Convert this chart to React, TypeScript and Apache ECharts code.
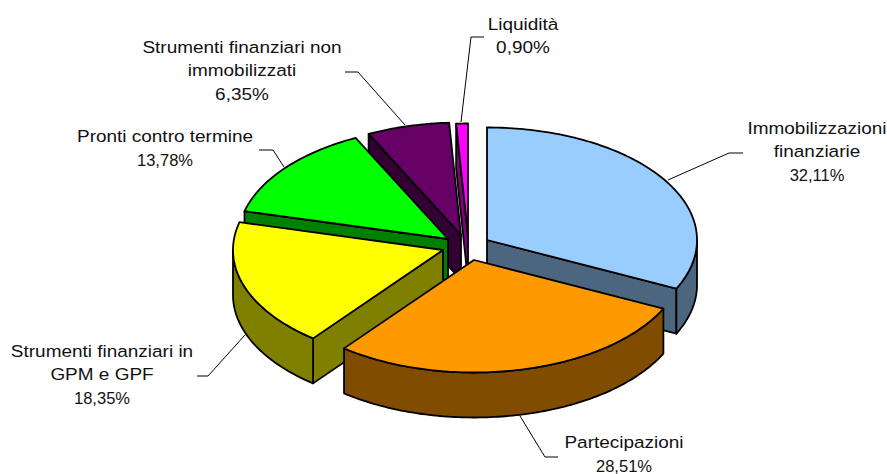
import React, { useEffect, useRef } from "react";
import * as echarts from "echarts";

const categories = [
  "Immobilizzazioni\nfinanziarie",
  "Partecipazioni",
  "Strumenti finanziari in\nGPM e GPF",
  "Pronti contro termine",
  "Strumenti finanziari non\nimmobilizzati",
  "Liquidità",
];
const shares = [32.11, 28.51, 18.35, 13.78, 6.35, 0.9];
const shareLabels = ["32,11%", "28,51%", "18,35%", "13,78%", "6,35%", "0,90%"];

// Styling and layout (kept apart from the data)
const topColors = ["#99CCFF", "#FF9900", "#FFFF00", "#00FF00", "#660066", "#FF00FF"];
const sideColors = ["#4D6680", "#804C00", "#808000", "#008000", "#330033", "#800080"];
const apexes = [[487, 240], [474, 260], [443, 250], [448, 239], [461, 235], [468, 236]];
const paintRank = [4, 5, 3, 2, 1, 0];
const RX = 210, RY = 112.5, DEPTH = 45;
const labelPos = [[817, 128], [624, 442.5], [102, 351], [165, 136], [242, 47], [523, 24]];
const LINE_GAP = 23.5;
const leaders = [
  [[668, 180], [729, 153], [743, 153]],
  [[520, 416], [545, 457], [558, 457]],
  [[245, 335], [208, 376], [197, 376]],
  [[284, 167], [273, 150], [259, 150]],
  [[405, 125], [358, 72], [345, 72]],
  [[461, 122], [471, 37], [484, 37]],
];

const total = shares.reduce((a, b) => a + b, 0);
const rad = (d: number) => (d * Math.PI) / 180;
const pt = (c: number[], deg: number, dy = 0) => [
  c[0] + RX * Math.sin(rad(deg)),
  c[1] - RY * Math.cos(rad(deg)) + dy,
];
const arc = (c: number[], a: number, b: number, dy = 0) => {
  const out: number[][] = [];
  const n = Math.max(2, Math.ceil(Math.abs(b - a)));
  for (let i = 0; i <= n; i++) out.push(pt(c, a + ((b - a) * i) / n, dy));
  return out;
};

function renderItem(params: any, api: any) {
  const i = params.dataIndex;
  const before = shares.slice(0, i).reduce((a, b) => a + b, 0);
  const a0 = (before / total) * 360;
  const a1 = a0 + (api.value(0) / total) * 360;
  const c = apexes[i];
  const rank = paintRank[i] * 10;
  const stroke = { stroke: "#000", lineWidth: 1.8, lineJoin: "round" };
  const children: any[] = [];
  const face = (deg: number) => ({
    type: "polygon",
    z2: rank + 1,
    shape: { points: [c, pt(c, deg), pt(c, deg, DEPTH), [c[0], c[1] + DEPTH]] },
    style: { fill: sideColors[i], ...stroke },
  });
  if (Math.sin(rad(a0)) < 0) children.push(face(a0));
  if (Math.sin(rad(a1)) > 0) children.push(face(a1));
  const w0 = Math.max(a0, 90), w1 = Math.min(a1, 270);
  if (w1 > w0) {
    children.push({
      type: "polygon",
      z2: rank + 2,
      shape: { points: [...arc(c, w0, w1), ...arc(c, w1, w0, DEPTH)] },
      style: { fill: sideColors[i], ...stroke },
    });
  }
  children.push({
    type: "polygon",
    z2: rank + 3,
    shape: { points: [c, ...arc(c, a0, a1)] },
    style: { fill: topColors[i], ...stroke },
  });
  children.push({
    type: "polyline",
    z2: 100,
    shape: { points: leaders[i] },
    style: { stroke: "#000", lineWidth: 1, fill: "none" },
  });
  const lines = [...categories[i].split("\n"), shareLabels[i]];
  lines.forEach((line, k) => {
    const tightPercent = line.endsWith("%") && line.includes("1");
    children.push({
      type: "text",
      z2: 101,
      x: labelPos[i][0],
      y: labelPos[i][1] + k * LINE_GAP,
      scaleX: tightPercent ? 1 : 1.15,
      style: {
        text: line,
        x: 0,
        y: 0,
        align: "center",
        verticalAlign: "middle",
        fill: "#111",
        font: '16.5px "Liberation Sans", Arial, sans-serif',
      },
    });
  });
  return { type: "group", children };
}

export default function App() {
  const ref = useRef<HTMLDivElement>(null);
  useEffect(() => {
    const chart = echarts.init(ref.current!, undefined, { renderer: "svg" });
    chart.setOption({
      animation: false,
      backgroundColor: "#fff",
      series: [
        {
          type: "custom",
          coordinateSystem: "none",
          silent: true,
          renderItem,
          data: shares.map((v) => [v]),
        },
      ],
    });
    return () => chart.dispose();
  }, []);
  return (
    <div
      ref={ref}
      style={{ position: "absolute", left: 0, top: 0, width: 887, height: 474 }}
    />
  );
}
